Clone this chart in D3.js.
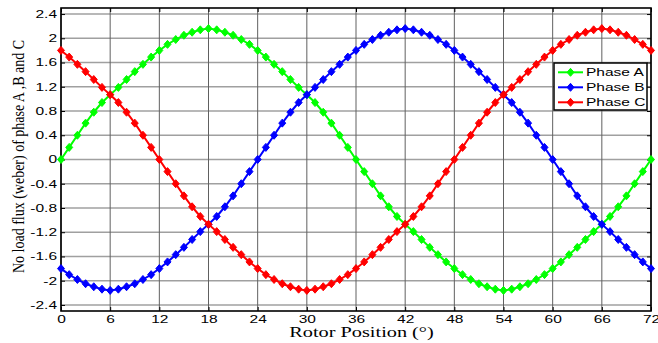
<div id="d3-container"></div>

<script src="https://d3js.org/d3.v7.min.js"></script>
<script>
    const width = 658;
    const height = 343;

    // rotor position in degrees, one sample per degree
    const positions = d3.range(0, 73);

    const phaseA = [0, 0.20, 0.40, 0.60, 0.78, 0.94, 1.07, 1.19, 1.32, 1.45, 1.57, 1.69, 1.80, 1.90, 1.98, 2.05, 2.10, 2.14, 2.16,
        2.14, 2.10, 2.05, 1.98, 1.90, 1.80, 1.69, 1.57, 1.45, 1.32, 1.19, 1.07, 0.94, 0.78, 0.60, 0.40, 0.20, 0,
        -0.20, -0.40, -0.60, -0.78, -0.94, -1.07, -1.19, -1.32, -1.45, -1.57, -1.69, -1.80, -1.90, -1.98, -2.05, -2.10, -2.14, -2.16,
        -2.14, -2.10, -2.05, -1.98, -1.90, -1.80, -1.69, -1.57, -1.45, -1.32, -1.19, -1.07, -0.94, -0.78, -0.60, -0.40, -0.20, 0];

    const phaseB = [-1.80, -1.90, -1.98, -2.05, -2.10, -2.14, -2.16, -2.14, -2.10, -2.05, -1.98, -1.90, -1.80, -1.69, -1.57, -1.45, -1.32, -1.19, -1.07, -0.94, -0.78, -0.60, -0.40, -0.20,
        0, 0.20, 0.40, 0.60, 0.78, 0.94, 1.07, 1.19, 1.32, 1.45, 1.57, 1.69, 1.80, 1.90, 1.98, 2.05, 2.10, 2.14, 2.16,
        2.14, 2.10, 2.05, 1.98, 1.90, 1.80, 1.69, 1.57, 1.45, 1.32, 1.19, 1.07, 0.94, 0.78, 0.60, 0.40, 0.20, 0,
        -0.20, -0.40, -0.60, -0.78, -0.94, -1.07, -1.19, -1.32, -1.45, -1.57, -1.69, -1.80];

    const phaseC = [1.80, 1.69, 1.57, 1.45, 1.32, 1.19, 1.07, 0.94, 0.78, 0.60, 0.40, 0.20, 0,
        -0.20, -0.40, -0.60, -0.78, -0.94, -1.07, -1.19, -1.32, -1.45, -1.57, -1.69, -1.80, -1.90, -1.98, -2.05, -2.10, -2.14, -2.16,
        -2.14, -2.10, -2.05, -1.98, -1.90, -1.80, -1.69, -1.57, -1.45, -1.32, -1.19, -1.07, -0.94, -0.78, -0.60, -0.40, -0.20, 0,
        0.20, 0.40, 0.60, 0.78, 0.94, 1.07, 1.19, 1.32, 1.45, 1.57, 1.69, 1.80, 1.90, 1.98, 2.05, 2.10, 2.14, 2.16,
        2.14, 2.10, 2.05, 1.98, 1.90, 1.80];

    const seriesNames = ["Phase A", "Phase B", "Phase C"];
    const seriesColors = ["#00ff00", "#0000ff", "#ff0000"];
    const xTicks = [0, 6, 12, 18, 24, 30, 36, 42, 48, 54, 60, 66, 72];
    const yTicks = [-2.4, -2, -1.6, -1.2, -0.8, -0.4, 0, 0.4, 0.8, 1.2, 1.6, 2, 2.4];

    const series = [phaseA, phaseB, phaseC].map((vals, i) => ({
        name: seriesNames[i],
        color: seriesColors[i],
        values: vals.map((v, j) => ({ x: positions[j], y: v }))
    }));

    const margin = { left: 61, right: 7, top: 8, bottom: 32 };
    const stretch = 1.45; // text in the picture is wider than tall

    d3.select("body").style("margin", 0);

    const svg = d3.select("#d3-container")
        .append("svg")
        .attr("width", width)
        .attr("height", height)
        .style("background-color", "#fff");

    const x = d3.scaleLinear().domain([0, 72]).range([margin.left, width - margin.right]);
    const y = d3.scaleLinear().domain([-2.5, 2.5]).range([height - margin.bottom, margin.top]);

    // grid
    svg.append("g")
        .selectAll("line")
        .data(yTicks)
        .join("line")
        .attr("x1", x(0)).attr("x2", x(72))
        .attr("y1", d => y(d)).attr("y2", d => y(d))
        .attr("stroke", "#a0a0a0")
        .attr("stroke-width", 1.5);

    svg.append("g")
        .selectAll("line")
        .data(xTicks)
        .join("line")
        .attr("x1", d => x(d)).attr("x2", d => x(d))
        .attr("y1", y(2.5)).attr("y2", y(-2.5))
        .attr("stroke", "#606060")
        .attr("stroke-width", 1);

    const fmt = d => String(+d.toFixed(1));

    const axisFont = "'Liberation Sans', Arial, sans-serif";
    const titleFont = "'Liberation Serif', 'Times New Roman', serif";

    // axes with ticks pointing inward
    const xAxis = svg.append("g")
        .attr("transform", `translate(0,${y(-2.5)})`)
        .call(d3.axisBottom(x).tickValues(xTicks).tickFormat(fmt).tickSize(-4).tickPadding(4).tickSizeOuter(0));
    xAxis.selectAll("text")
        .attr("transform", `scale(${stretch},1)`)
        .attr("font-size", "10.7px");

    svg.append("g")
        .attr("transform", `translate(0,${y(2.5)})`)
        .call(d3.axisTop(x).tickValues(xTicks).tickFormat("").tickSize(-4).tickSizeOuter(0));

    const yAxis = svg.append("g")
        .attr("transform", `translate(${x(0)},0)`)
        .call(d3.axisLeft(y).tickValues(yTicks).tickFormat(fmt).tickSize(-4).tickPadding(4).tickSizeOuter(0));
    yAxis.selectAll("text")
        .attr("x", -4 / stretch)
        .attr("transform", `scale(${stretch},1)`)
        .attr("font-size", "10.7px");

    svg.append("g")
        .attr("transform", `translate(${x(72)},0)`)
        .call(d3.axisRight(y).tickValues(yTicks).tickFormat("").tickSize(-4).tickSizeOuter(0));

    svg.selectAll(".domain").remove();
    svg.selectAll(".tick line").attr("stroke", "#000");
    svg.selectAll(".tick text").attr("font-family", axisFont).attr("fill", "#000");

    // frame
    svg.append("rect")
        .attr("x", x(0)).attr("y", y(2.5))
        .attr("width", x(72) - x(0)).attr("height", y(-2.5) - y(2.5))
        .attr("fill", "none")
        .attr("stroke", "#000")
        .attr("stroke-width", 1.6);

    const diamond = "M0,-4L3.5,0L0,4L-3.5,0Z";

    const line = d3.line().x(d => x(d.x)).y(d => y(d.y));

    series.forEach(s => {
        const g = svg.append("g");
        g.append("path")
            .datum(s.values)
            .attr("d", line)
            .attr("fill", "none")
            .attr("stroke", s.color)
            .attr("stroke-width", 2);
        g.selectAll("path.mark")
            .data(s.values)
            .join("path")
            .attr("class", "mark")
            .attr("d", diamond)
            .attr("transform", d => `translate(${x(d.x)},${y(d.y)})`)
            .attr("fill", s.color)
            .attr("stroke", s.color)
            .attr("stroke-width", 1);
    });

    // axis titles
    svg.append("text")
        .attr("transform", `translate(361.5,337) scale(1.4,1)`)
        .attr("text-anchor", "middle")
        .attr("font-family", titleFont)
        .attr("font-weight", "normal")
        .attr("font-size", "14.5px")
        .attr("fill", "#000")
        .text("Rotor Position (°)");

    svg.append("text")
        .attr("transform", `translate(23.5,156.5) rotate(-90) scale(1,1.25)`)
        .attr("text-anchor", "middle")
        .attr("font-family", titleFont)
        .attr("font-weight", "normal")
        .attr("font-size", "14px")
        .attr("fill", "#000")
        .text("No load flux (weber) of phase A ,B and C");

    // legend
    const legend = svg.append("g").attr("transform", "translate(554,63)");
    legend.append("rect")
        .attr("width", 93).attr("height", 47)
        .attr("fill", "#fff")
        .attr("stroke", "#000")
        .attr("stroke-width", 1.5);

    series.forEach((s, i) => {
        const row = legend.append("g").attr("transform", `translate(0,${9.3 + i * 15})`);
        row.append("line")
            .attr("x1", 4).attr("x2", 29)
            .attr("stroke", s.color)
            .attr("stroke-width", 2);
        row.append("path")
            .attr("d", diamond)
            .attr("transform", "translate(16.5,0)")
            .attr("fill", s.color)
            .attr("stroke", s.color);
        row.append("text")
            .attr("transform", `translate(32,3.8) scale(${stretch},1)`)
            .attr("font-family", axisFont)
            .attr("font-size", "10.7px")
            .attr("fill", "#000")
            .text(s.name);
    });
</script>
